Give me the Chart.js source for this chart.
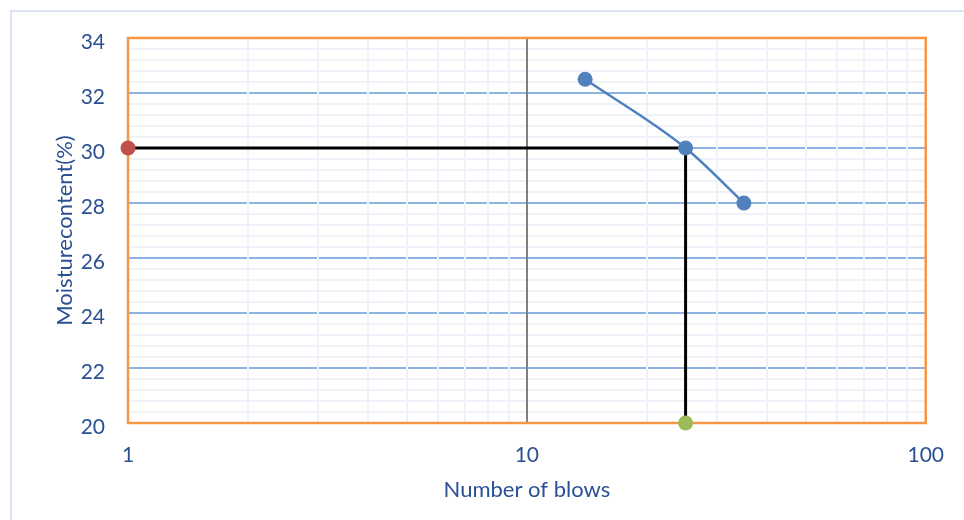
<!DOCTYPE html>
<html>
<head>
<meta charset="utf-8">
<script src="https://cdn.jsdelivr.net/npm/chart.js@4/dist/chart.umd.min.js"></script>
<style>
  html, body { margin: 0; padding: 0; background: #ffffff; overflow: hidden; }
  #frame { position: absolute; left: 10px; top: 10px; width: 2000px; height: 2000px; border: 2px solid #dbe4f3; box-sizing: border-box; }
  #wrap { position: absolute; left: 0; top: 0; width: 964px; height: 520px; }
</style>
</head>
<body>
<div id="frame"></div>
<div id="wrap"><canvas id="c"></canvas></div>
<script>
// ---- data ----
const blowCounts = [14, 25, 35];
const moistureContent = [32.5, 30, 28];
const guideBlows = [1, 25, 25];
const guideMoisture = [30, 30, 20];
const markerRedBlows = [1];
const markerRedMoisture = [30];
const markerGreenBlows = [25];
const markerGreenMoisture = [20];
const xTickValues = [1, 10, 100];
const yTickValues = [20, 22, 24, 26, 28, 30, 32, 34];

const textColor = '#2a5193';
const pts = (xs, ys) => xs.map((x, i) => ({ x: x, y: ys[i] }));

const gridPlugin = {
  id: 'excelGrid',
  beforeDatasetsDraw(chart) {
    const { ctx, chartArea: a, scales: { x, y } } = chart;
    ctx.save();
    // minor horizontal
    ctx.strokeStyle = '#eef3f9';
    ctx.lineWidth = 2;
    for (let v = 20; v <= 34.001; v += 0.4) {
      const py = Math.round(y.getPixelForValue(v));
      ctx.beginPath(); ctx.moveTo(a.left, py); ctx.lineTo(a.right, py); ctx.stroke();
    }
    // major horizontal
    ctx.strokeStyle = '#8db3e2';
    ctx.lineWidth = 2;
    yTickValues.forEach(v => {
      if (v === 20 || v === 34) return;
      const py = Math.round(y.getPixelForValue(v));
      ctx.beginPath(); ctx.moveTo(a.left, py); ctx.lineTo(a.right, py); ctx.stroke();
    });
    // minor vertical (drawn over)
    ctx.strokeStyle = '#eef3f9';
    ctx.lineWidth = 2;
    [1, 10].forEach(d => {
      for (let m = 2; m <= 9; m++) {
        const px = Math.round(x.getPixelForValue(d * m));
        ctx.beginPath(); ctx.moveTo(px, a.top); ctx.lineTo(px, a.bottom); ctx.stroke();
      }
    });
    // major vertical at 10
    ctx.strokeStyle = '#808080';
    ctx.lineWidth = 2;
    const p10 = Math.round(x.getPixelForValue(10));
    ctx.beginPath(); ctx.moveTo(p10, a.top); ctx.lineTo(p10, a.bottom); ctx.stroke();
    // orange border
    ctx.strokeStyle = '#f79646';
    ctx.lineWidth = 2.5;
    ctx.strokeRect(a.left, a.top, a.right - a.left, a.bottom - a.top);
    ctx.restore();
  }
};

new Chart(document.getElementById('c'), {
  type: 'scatter',
  data: {
    datasets: [
      {
        label: 'Moisture content',
        data: pts(blowCounts, moistureContent),
        showLine: true,
        cubicInterpolationMode: 'monotone',
        tension: 0.4,
        borderColor: '#4f81bd',
        backgroundColor: '#4f81bd',
        borderWidth: 2.5,
        pointRadius: 7.5,
        pointBorderWidth: 0,
        clip: false,
        order: 1
      },
      {
        label: 'Guide',
        data: pts(guideBlows, guideMoisture),
        showLine: true,
        tension: 0,
        borderColor: '#000000',
        borderWidth: 3,
        pointRadius: 0,
        clip: false,
        order: 4
      },
      {
        label: 'LL',
        data: pts(markerRedBlows, markerRedMoisture),
        backgroundColor: '#c0504d',
        borderWidth: 0,
        pointRadius: 7.5,
        clip: false,
        order: 2
      },
      {
        label: 'Base',
        data: pts(markerGreenBlows, markerGreenMoisture),
        backgroundColor: '#9bbb59',
        borderWidth: 0,
        pointRadius: 7.5,
        clip: false,
        order: 3
      }
    ]
  },
  options: {
    responsive: true,
    maintainAspectRatio: false,
    animation: false,
    layout: { padding: { left: 0, right: 37, top: 38, bottom: 0 } },
    plugins: { legend: { display: false }, tooltip: { enabled: false } },
    scales: {
      x: {
        type: 'logarithmic',
        min: 1,
        max: 100,
        afterBuildTicks: s => { s.ticks = xTickValues.map(v => ({ value: v })); },
        afterFit: s => { s.height = 97; },
        grid: { display: false, drawTicks: false },
        border: { display: false },
        ticks: {
          autoSkip: false,
          maxRotation: 0,
          padding: 20,
          color: textColor,
          font: { family: 'Lato', size: 21 },
          callback: v => String(v)
        },
        title: {
          display: true,
          text: 'Number of blows',
          color: textColor,
          font: { family: 'Lato', size: 22 },
          padding: { top: 0, bottom: 17 }
        }
      },
      y: {
        type: 'linear',
        min: 20,
        max: 34,
        afterBuildTicks: s => { s.ticks = yTickValues.map(v => ({ value: v })); },
        afterFit: s => { s.width = 128; },
        grid: { display: false, drawTicks: false },
        border: { display: false },
        ticks: {
          padding: 23,
          color: textColor,
          font: { family: 'Lato', size: 21, lineHeight: '8px' },
          callback: v => ['', String(v)]
        },
        title: {
          display: true,
          text: 'Moisturecontent(%)',
          color: textColor,
          font: { family: 'Lato', size: 22 },
          padding: { top: 52, bottom: 0 }
        }
      }
    }
  },
  plugins: [gridPlugin]
});
</script>
</body>
</html>
